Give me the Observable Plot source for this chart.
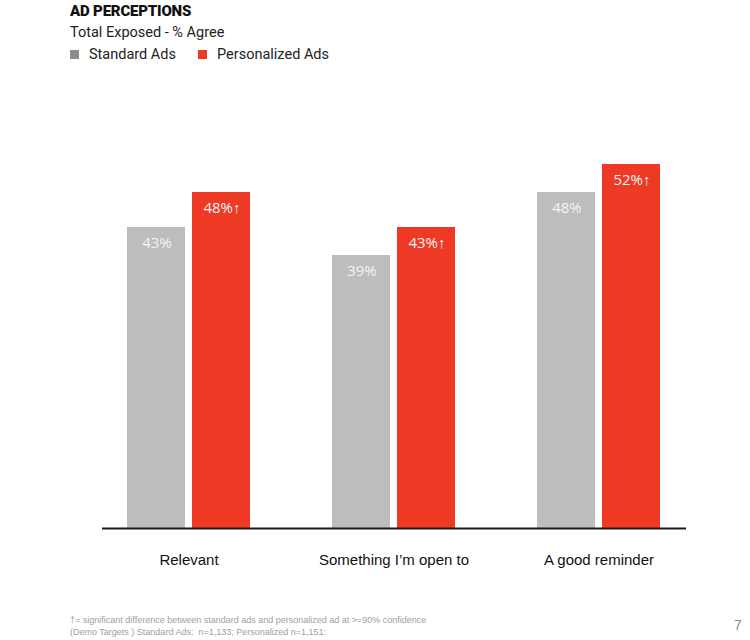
<!DOCTYPE html>
<html>
<head>
<meta charset="utf-8">
<script src="https://cdn.jsdelivr.net/npm/d3@7"></script>
<script src="https://cdn.jsdelivr.net/npm/@observablehq/plot@0.6"></script>
<style>
  body { margin: 0; background: #fff; width: 750px; height: 640px; position: relative; overflow: hidden; font-family: "Liberation Sans", Arial, sans-serif; }
  #chart { position: absolute; left: 0; top: 0; }
  .title { position: absolute; left: 70px; top: 2px; font-family: Roboto, "Liberation Sans", sans-serif; font-weight: 900; font-size: 15px; color: #111; letter-spacing: -0.2px; }
  .subtitle { position: absolute; left: 70px; top: 24px; font-family: Roboto, "Liberation Sans", sans-serif; font-size: 14.5px; color: #222; }
  .legend { position: absolute; left: 70px; top: 46px; font-family: Roboto, "Liberation Sans", sans-serif; font-size: 14.5px; color: #222; display: flex; align-items: center; }
  .legend .sw { display: inline-block; width: 9px; height: 9px; margin-right: 10px; }
  .legend .item { display: flex; align-items: center; margin-right: 22px; }
  .foot { position: absolute; left: 70px; top: 614px; font-family: "Liberation Sans Narrow", "Liberation Sans", sans-serif; font-size: 9px; color: #a0a0a0; line-height: 12px; }
  .page { position: absolute; left: 734px; top: 617px; font-size: 14px; color: #888; font-family: "Liberation Sans", sans-serif; }
</style>
</head>
<body>
<div id="chart"></div>
<div class="title">AD PERCEPTIONS</div>
<div class="subtitle">Total Exposed - % Agree</div>
<div class="legend" id="legend"></div>
<div class="foot">†= significant difference between standard ads and personalized ad at &gt;=90% confidence<br>(Demo Targets ) Standard Ads:&nbsp; n=1,133; Personalized n=1,151:</div>
<div class="page">7</div>
<script>
const categories = ["Relevant", "Something I\u2019m open to", "A good reminder"];
const seriesNames = ["Standard Ads", "Personalized Ads"];
const standardValues = [43, 39, 48];
const personalizedValues = [48, 43, 52];
const valueLabelsStandard = ["43%", "39%", "48%"];
const valueLabelsPersonalized = ["48%\u2191", "43%\u2191", "52%\u2191"];
const seriesColors = ["#bdbdbd", "#ee3a24"];
const legendColors = ["#8c8c8c", "#ee3a24"];

const standardData = categories.map((c, i) => ({category: c, series: seriesNames[0], value: standardValues[i], label: valueLabelsStandard[i]}));
const personalizedData = categories.map((c, i) => ({category: c, series: seriesNames[1], value: personalizedValues[i], label: valueLabelsPersonalized[i]}));

const legend = document.getElementById("legend");
seriesNames.forEach((s, i) => {
  const item = document.createElement("span");
  item.className = "item";
  item.innerHTML = `<span class="sw" style="background:${legendColors[i]}"></span>${s}`;
  legend.appendChild(item);
});

const labelStyle = {fill: "#f4f4f4", fontSize: 15, fontFamily: "'Open Sans', sans-serif", dy: 16};

const chart = Plot.plot({
  width: 750,
  height: 640,
  marginTop: 108,
  marginBottom: 112,
  marginLeft: 102,
  marginRight: 64,
  style: {background: "transparent", overflow: "visible"},
  x: {domain: categories, paddingInner: 0.398, paddingOuter: 0.1165, label: null},
  y: {domain: [0, 60], axis: null},
  color: {domain: seriesNames, range: seriesColors},
  marks: [
    Plot.barY(standardData, {x: "category", y: "value", fill: "series", insetRight: 65}),
    Plot.barY(personalizedData, {x: "category", y: "value", fill: "series", insetLeft: 65}),
    Plot.text(standardData, {x: "category", y: "value", text: "label", dx: -32, ...labelStyle}),
    Plot.text(personalizedData, {x: "category", y: "value", text: "label", dx: 33, ...labelStyle}),
    Plot.ruleY([0], {stroke: "#1a1a1a", strokeWidth: 1.8}),
    Plot.axisX({anchor: "bottom", tickSize: 0, tickPadding: 26, fontSize: 15, fill: "#111", fontFamily: "'Liberation Sans', Arial, sans-serif", label: null})
  ]
});
document.getElementById("chart").appendChild(chart);
</script>
</body>
</html>
